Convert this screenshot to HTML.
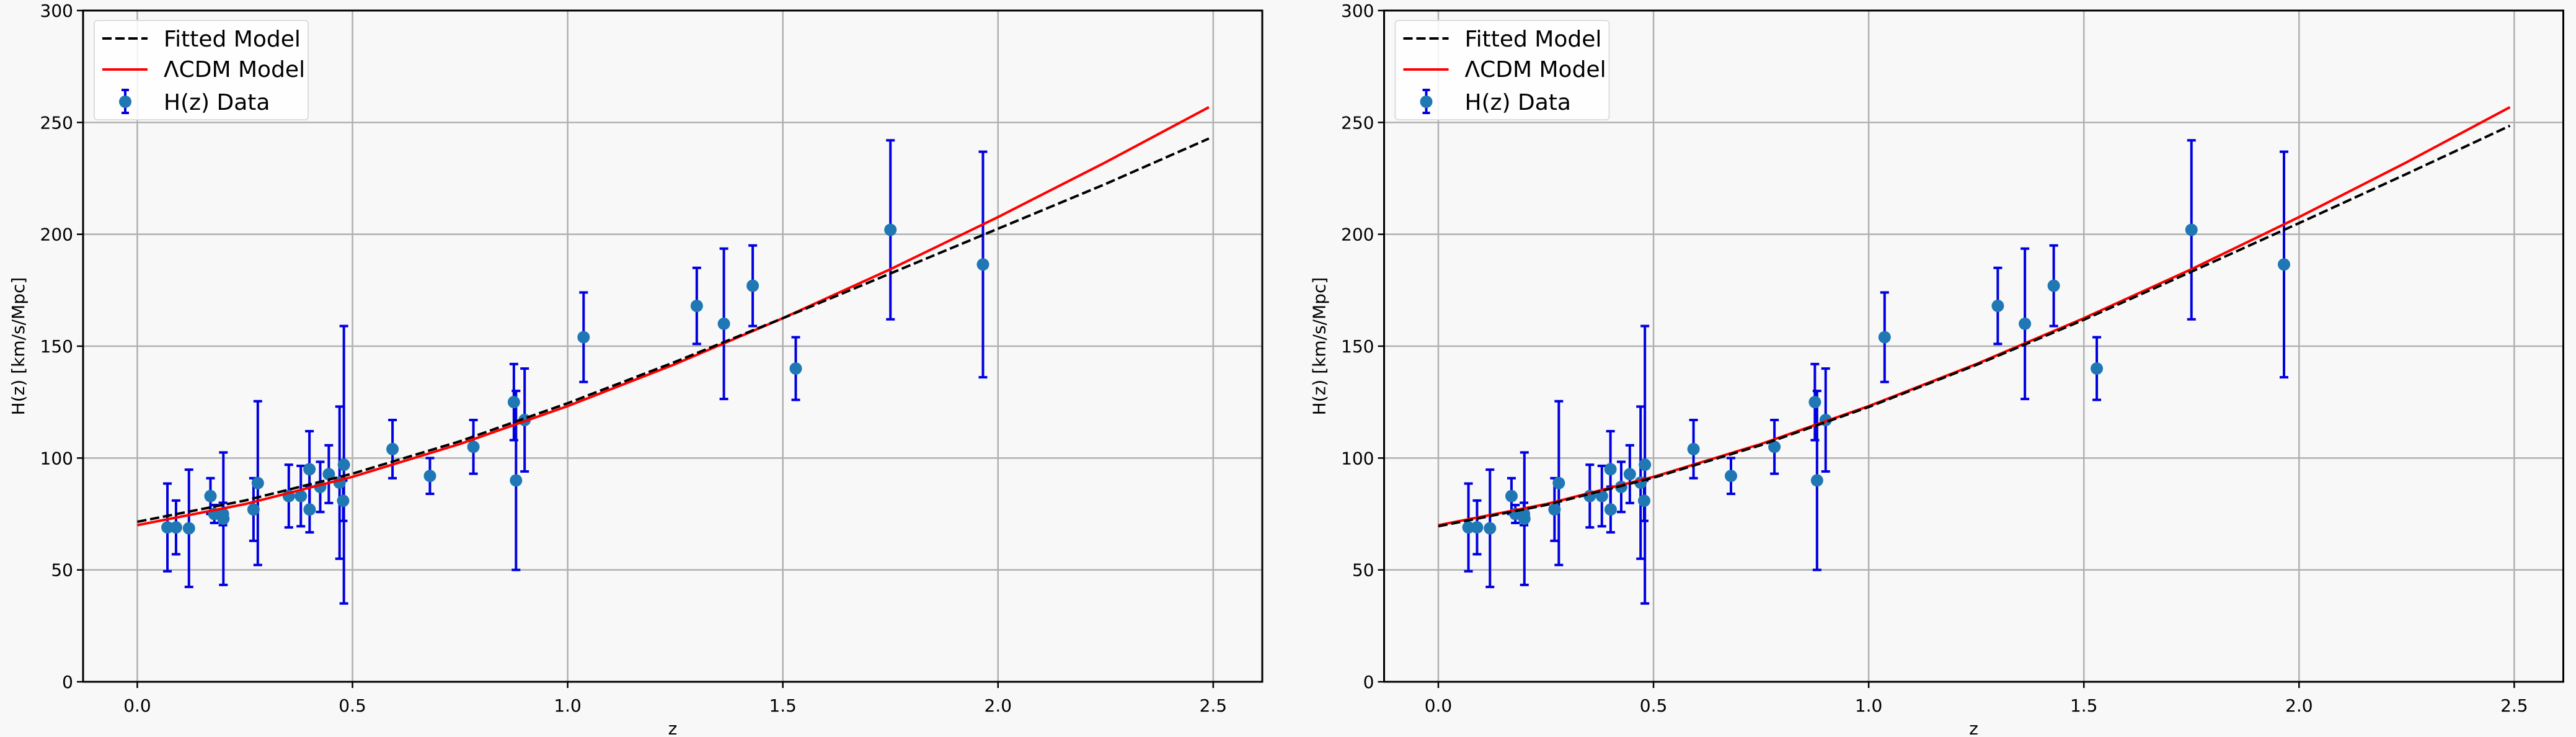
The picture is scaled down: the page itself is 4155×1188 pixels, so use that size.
<!DOCTYPE html>
<html><head><meta charset="utf-8">
<style>
html,body{margin:0;padding:0;background:#f8f8f8;}
svg{display:block;font-family:"DejaVu Sans","Liberation Sans",sans-serif;}
</style></head>
<body>
<svg id="chart" width="4155" height="1188" viewBox="0 0 4155 1188" xmlns="http://www.w3.org/2000/svg">
<rect width="4155" height="1188" fill="#f8f8f8"/>
</svg>
<script>
const zData = [0.07,0.09,0.12,0.17,0.179,0.199,0.2,0.27,0.28,0.352,0.38,0.4,0.4004,0.425,0.445,0.47,0.4783,0.48,0.593,0.68,0.781,0.875,0.88,0.9,1.037,1.3,1.363,1.43,1.53,1.75,1.965];
const hData = [69,69,68.6,83,75,75,72.9,77,88.8,83,83,95,77,87.1,92.8,89,80.9,97,104,92,105,125,90,117,154,168,160,177,140,202,186.5];
const hErr  = [19.6,12,26.2,8,4,5,29.6,14,36.6,14,13.5,17,10.2,11.2,12.9,34,9,62,13,8,12,17,40,23,20,17,33.6,18,14,40,50.4];
const zModel = [0,0.25,0.5,0.75,1.0,1.25,1.5,1.75,2.0,2.25,2.49];
const lcdmH  = [70,79.4,91.6,106.3,123.2,142.0,162.5,184.4,207.7,232.2,256.8];
const fitLeftH  = [71.5,81,93,107.5,124.5,143,162.5,182.5,202.5,222.5,242.8];
const fitRightH = [69.5,79,91.2,105.8,122.8,141.6,161.8,183.3,205,227,248.5];
const xTicks = [0.0,0.5,1.0,1.5,2.0,2.5];
const xTickLabels = ["0.0","0.5","1.0","1.5","2.0","2.5"];
const yTicks = [0,50,100,150,200,250,300];
const yTickLabels = ["0","50","100","150","200","250","300"];

const NS="http://www.w3.org/2000/svg";
const svg=document.getElementById('chart');
function mk(tag,attrs,parent){const e=document.createElementNS(NS,tag);for(const k in attrs)e.setAttribute(k,attrs[k]);(parent||svg).appendChild(e);return e;}

function panel(left,right,top,bottom,xmin,xmax,fitH,pname){
  const g=mk('g',{});
  
  
  const X=z=>left+(z-xmin)/(xmax-xmin)*(right-left);
  const Y=h=>bottom-(h-0)/(300-0)*(bottom-top);
  xTicks.forEach((t,i)=>{
    const l=mk('line',{x1:X(t),x2:X(t),y1:top,y2:bottom,stroke:'#b0b0b0','stroke-width':2.5},g);
    
    
  });
  yTicks.forEach((t,i)=>{
    const l=mk('line',{x1:left,x2:right,y1:Y(t),y2:Y(t),stroke:'#b0b0b0','stroke-width':2.5},g);
    
    
  });
  zData.forEach((z,i)=>{
    const x=X(z),y1=Y(hData[i]-hErr[i]),y2=Y(hData[i]+hErr[i]);
    const eb=mk('g',{stroke:'#0000e0','stroke-width':4},g);
    
    
    mk('line',{x1:x,x2:x,y1:y1,y2:y2},eb);
    mk('line',{x1:x-7,x2:x+7,y1:y1,y2:y1},eb);
    mk('line',{x1:x-7,x2:x+7,y1:y2,y2:y2},eb);
  });
  zData.forEach((z,i)=>{
    const c=mk('circle',{cx:X(z),cy:Y(hData[i]),r:10,fill:'#1f77b4'},g);
    
    
  });
  const pts=a=>zModel.map((z,i)=>X(z)+','+Y(a[i])).join(' ');
  const red=mk('polyline',{points:pts(lcdmH),fill:'none',stroke:'#ff0000','stroke-width':4},g);
  
  
  const fit=mk('polyline',{points:pts(fitH),fill:'none',stroke:'#000','stroke-width':4,'stroke-dasharray':'15,6'},g);
  
  
  const fr=mk('rect',{x:left,y:top,width:right-left,height:bottom-top,fill:'none',stroke:'#000','stroke-width':3},g);
  
  
  xTicks.forEach((t,i)=>{
    mk('line',{x1:X(t),x2:X(t),y1:bottom,y2:bottom+10,stroke:'#000','stroke-width':2.5},g);
    const tx=mk('text',{x:X(t),y:bottom+48,'font-size':28,'text-anchor':'middle',fill:'#000'},g);
    tx.textContent=xTickLabels[i];
    
    
  });
  yTicks.forEach((t,i)=>{
    mk('line',{x1:left-10,x2:left,y1:Y(t),y2:Y(t),stroke:'#000','stroke-width':2.5},g);
    const tx=mk('text',{x:left-16,y:Y(t)+10,'font-size':28,'text-anchor':'end',fill:'#000'},g);
    tx.textContent=yTickLabels[i];
    
    
  });
  const xl=mk('text',{x:(left+right)/2,y:bottom+85,'font-size':28,'text-anchor':'middle',fill:'#000'},g);
  xl.textContent='z';
  
  
  const yl=mk('text',{x:0,y:0,'font-size':28,'text-anchor':'middle',fill:'#000',transform:`translate(${left-95},${(top+bottom)/2}) rotate(-90)`},g);
  yl.textContent='H(z) [km/s/Mpc]';
  
  
  const lg=mk('g',{},g);
  
  
  const lx=left+18, ly=top+16;
  mk('rect',{x:lx,y:ly,width:345,height:160,rx:5,fill:'#ffffff','fill-opacity':0.85,stroke:'#dddddd','stroke-width':2},lg);
  mk('line',{x1:lx+13,x2:lx+86,y1:ly+29,y2:ly+29,stroke:'#000','stroke-width':4,'stroke-dasharray':'15,6'},lg);
  mk('line',{x1:lx+13,x2:lx+86,y1:ly+79,y2:ly+79,stroke:'#ff0000','stroke-width':4},lg);
  mk('line',{x1:lx+50,x2:lx+50,y1:ly+112,y2:ly+149,stroke:'#0000e0','stroke-width':4},lg);
  mk('line',{x1:lx+44,x2:lx+56,y1:ly+112,y2:ly+112,stroke:'#0000e0','stroke-width':4},lg);
  mk('line',{x1:lx+44,x2:lx+56,y1:ly+149,y2:ly+149,stroke:'#0000e0','stroke-width':4},lg);
  mk('circle',{cx:lx+50,cy:ly+131,r:10,fill:'#1f77b4'},lg);
  [['Fitted Model',42,'legend-entry-fitted'],['\u039BCDM Model',91,'legend-entry-lcdm'],['H(z) Data',144,'legend-entry-data']].forEach(([t,dy,n])=>{
    const tx=mk('text',{x:lx+112,y:ly+dy,'font-size':36,fill:'#000'},lg);
    tx.textContent=t;
    
    
  });
}
panel(134,2036,17,1099,-0.126,2.614,fitLeftH,'left-panel');
panel(2232.5,4134.5,17,1099,-0.126,2.614,fitRightH,'right-panel');
</script>
</body></html>
